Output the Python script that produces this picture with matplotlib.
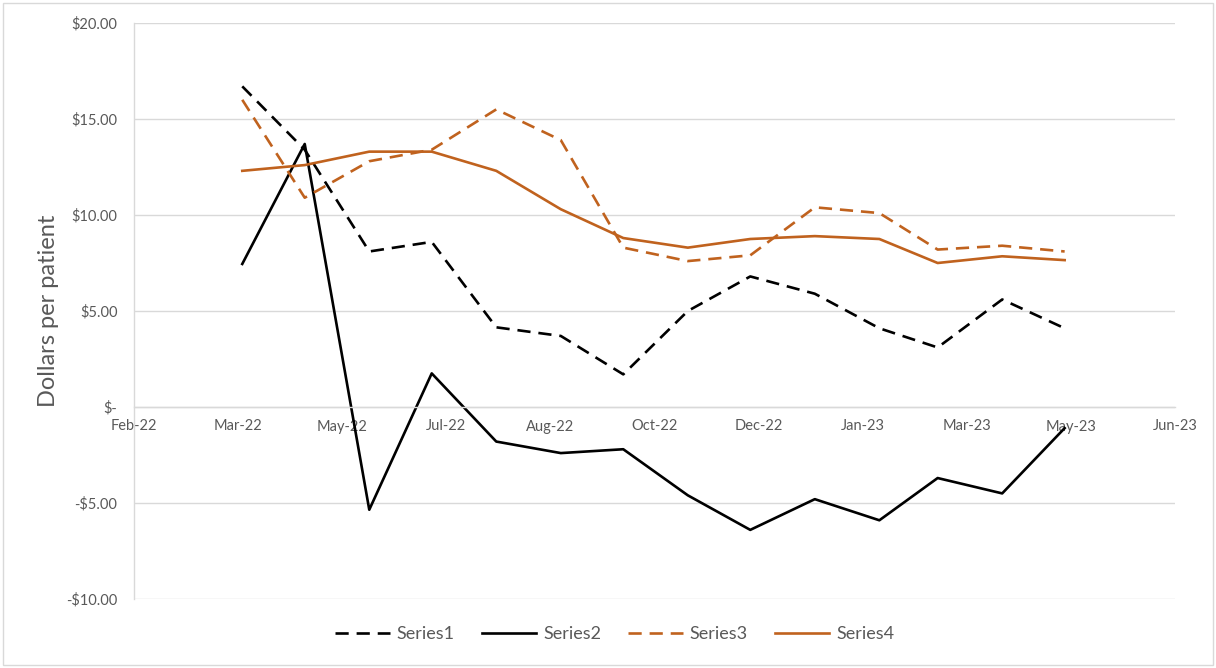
import datetime as dt
import matplotlib
matplotlib.use('Agg')
import matplotlib.pyplot as plt
import matplotlib.dates as mdates
from matplotlib.patches import Rectangle
from matplotlib.ticker import FuncFormatter

plt.rcParams['font.family'] = ['Lato', 'DejaVu Sans']

# month-end dates, Mar-22 .. Apr-23
dates = ['2022-03-31', '2022-04-30', '2022-05-31', '2022-06-30', '2022-07-31',
         '2022-08-31', '2022-09-30', '2022-10-31', '2022-11-30', '2022-12-31',
         '2023-01-31', '2023-02-28', '2023-03-31', '2023-04-30']

series1 = [16.7, 13.4, 8.1, 8.6, 4.15, 3.7, 1.7, 5.0, 6.8, 5.9, 4.1, 3.1, 5.6, 4.1]
series2 = [7.45, 13.7, -5.35, 1.75, -1.8, -2.4, -2.2, -4.6, -6.4, -4.8, -5.9, -3.7, -4.5, -1.1]
series3 = [16.0, 10.9, 12.8, 13.4, 15.5, 13.9, 8.3, 7.6, 7.9, 10.4, 10.1, 8.2, 8.4, 8.1]
series4 = [12.3, 12.6, 13.3, 13.3, 12.3, 10.3, 8.8, 8.3, 8.75, 8.9, 8.75, 7.5, 7.85, 7.65]

# date axis: starts Feb-22, major unit 50 days
AXIS_START = dt.date(2022, 2, 7)
MAJOR_DAYS = 50
N_TICKS = 11

BLACK = '#000000'
ORANGE = '#C0621E'
GRAY_TXT = '#595959'
GRID = '#D9D9D9'

x = [dt.datetime.strptime(d, '%Y-%m-%d').date() for d in dates]

fig = plt.figure(figsize=(12.16, 6.68), dpi=100)
ax = fig.add_axes([134 / 1216, 1 - 599 / 668, 1041 / 1216, 576 / 668])

lw = 1.9
ax.plot(x, series1, color=BLACK, lw=lw, dashes=(5, 3), label='Series1')
ax.plot(x, series2, color=BLACK, lw=lw, label='Series2')
ax.plot(x, series3, color=ORANGE, lw=lw, dashes=(5, 3), label='Series3')
ax.plot(x, series4, color=ORANGE, lw=lw, label='Series4')

ticks = [AXIS_START + dt.timedelta(days=MAJOR_DAYS * i) for i in range(N_TICKS)]
ax.set_xlim(ticks[0], ticks[-1])
ax.set_xticks(ticks)
ax.xaxis.set_major_formatter(mdates.DateFormatter('%b-%y'))

ax.set_ylim(-10, 20)
ax.set_yticks([-10, -5, 0, 5, 10, 15, 20])


def dollars(v, pos):
    if abs(v) < 1e-9:
        return '$-'
    if v < 0:
        return f'-${abs(v):.2f}'
    return f'${v:.2f}'


ax.yaxis.set_major_formatter(FuncFormatter(dollars))
ax.grid(axis='y', color=GRID, lw=1.0)
ax.set_axisbelow(True)

for s in ['top', 'right']:
    ax.spines[s].set_visible(False)
ax.spines['bottom'].set_position(('data', 0))
ax.spines['bottom'].set_color(GRID)
ax.spines['bottom'].set_linewidth(1.0)
ax.spines['left'].set_color(GRID)
ax.spines['left'].set_linewidth(1.0)

ax.tick_params(axis='y', length=0, pad=12, labelsize=10.5, labelcolor=GRAY_TXT)
ax.tick_params(axis='x', length=0, pad=9, labelsize=10.5, labelcolor=GRAY_TXT)

ax.set_ylabel('Dollars per patient', fontsize=17, color=GRAY_TXT, labelpad=5)

fig.legend(loc='center', bbox_to_anchor=(615 / 1216, 1 - 634 / 668), ncol=4,
           frameon=False, fontsize=13, labelcolor=GRAY_TXT,
           handlelength=3.0, handletextpad=0.4, columnspacing=1.5)

fig.patches.append(Rectangle((3 / 1216, 3 / 668), 1210 / 1216, 662 / 668,
                             transform=fig.transFigure, fill=False,
                             edgecolor=GRID, lw=1.0))

fig.savefig('out.png', dpi=100)
